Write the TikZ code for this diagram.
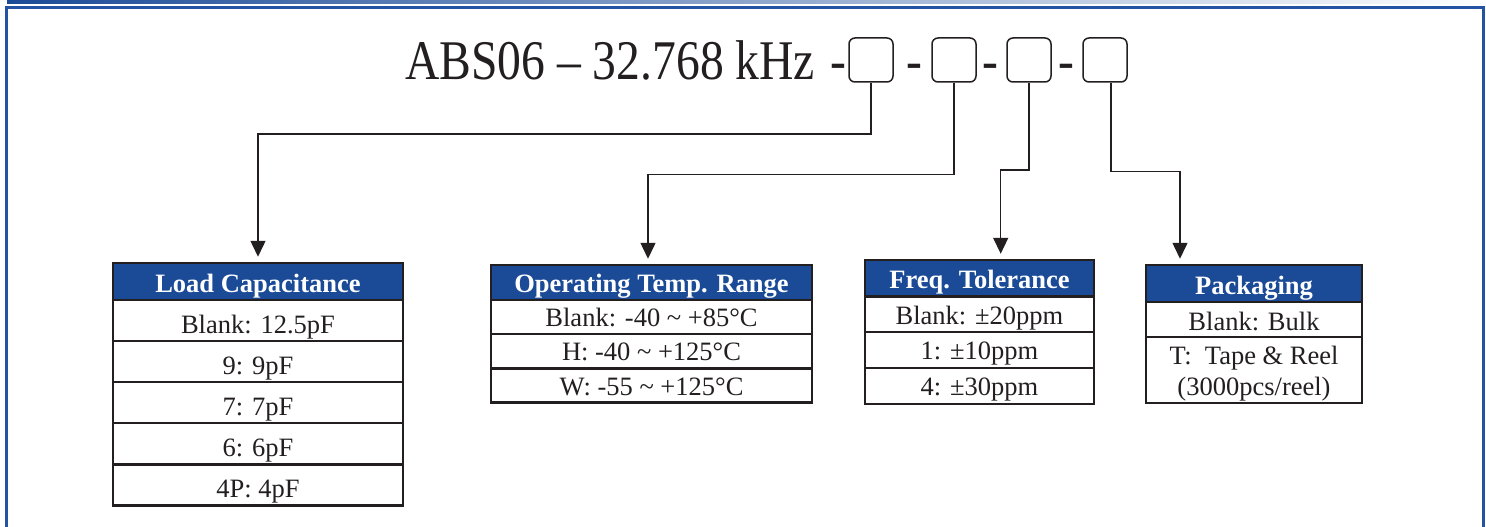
\documentclass[tikz,border=0pt]{standalone}
\usepackage{fontspec}
\setmainfont{Liberation Serif}
\newfontfamily\pnfont[FakeStretch=0.85,Ligatures=TeX]{Liberation Serif}
\usetikzlibrary{arrows.meta}
\definecolor{hdrblue}{HTML}{1B4B97}
\definecolor{frameblue}{HTML}{2553A3}
\definecolor{inkline}{HTML}{231F20}

\begin{document}
\begin{tikzpicture}[x=1pt,y=-1pt,
  hdr/.style={draw=inkline,line width=2.5pt,fill=hdrblue,text=white,inner sep=0pt,
    font=\fontsize{26.5}{31}\selectfont\bfseries,text height=19pt,text depth=0pt},
  cell/.style={draw=inkline,line width=2.5pt,fill=white,text=inkline,inner sep=0pt,
    font=\fontsize{26.5}{31}\selectfont,text height=19pt,text depth=0pt},
  pnpart/.style={inner sep=0pt,text=inkline,font=\pnfont\fontsize{56}{60}\selectfont},
  slot/.style={draw=inkline,line width=1.5pt,rounded corners=6pt,minimum width=44pt,minimum height=44pt},
  conn/.style={draw=inkline,line width=1.5pt,-{Triangle[length=16pt,width=15pt]},shorten >=5pt}]
\useasboundingbox (0,0) rectangle (1486,527);
\clip (0,0) rectangle (1486,527);
\fill[white] (0,0) rectangle (1486,527);
\shade[left color=hdrblue,right color=white] (7,0) rectangle (1486,3.5);
\draw[frameblue,line width=3pt] (6,540) |- (1483,7.5) -- (1483,540);

\node[pnpart,anchor=base west] (pn) at (405,80) {ABS06 – 32.768 kHz};
\node[pnpart,anchor=base] (d1) at (838.5,80) {-};
\node[pnpart,anchor=base] (d2) at (914,80) {-};
\node[pnpart,anchor=base] (d3) at (990,80) {-};
\node[pnpart,anchor=base] (d4) at (1066,80) {-};
\node[slot] (b1) at (871,60) {};
\node[slot] (b2) at (954,60) {};
\node[slot] (b3) at (1029,60) {};
\node[slot] (b4) at (1105,60) {};

\node[hdr,minimum width=290pt,minimum height=37pt,text height=22pt] (lc) at (258,281.5) {Load Capacitance};
\node[cell,minimum width=290pt,minimum height=41pt,text height=25pt] (lc1) at (258,320.5) {Blank: 12.5pF};
\node[cell,minimum width=290pt,minimum height=41pt,text height=25pt] (lc2) at (258,361.5) {9: 9pF};
\node[cell,minimum width=290pt,minimum height=41pt,text height=25pt] (lc3) at (258,402.5) {7: 7pF};
\node[cell,minimum width=290pt,minimum height=41pt,text height=25pt] (lc4) at (258,443.5) {6: 6pF};
\node[cell,minimum width=290pt,minimum height=41pt,text height=25pt] (lc5) at (258,485) {4P: 4pF};

\node[hdr,minimum width=321pt,minimum height=35pt] (ot) at (651.5,282.5) {Operating Temp. Range};
\node[cell,minimum width=321pt,minimum height=34pt] (ot1) at (651.5,317) {Blank: -40 \textasciitilde{} +85°C};
\node[cell,minimum width=321pt,minimum height=34pt] (ot2) at (651.5,351) {H: -40 \textasciitilde{} +125°C};
\node[cell,minimum width=321pt,minimum height=34pt] (ot3) at (651.5,385.5) {W: -55 \textasciitilde{} +125°C};

\node[hdr,minimum width=229pt,minimum height=37pt] (ft) at (979.5,278.5) {Freq. Tolerance};
\node[cell,minimum width=229pt,minimum height=36pt] (ft1) at (979.5,314.5) {Blank: ±20ppm};
\node[cell,minimum width=229pt,minimum height=36pt] (ft2) at (979.5,350) {1: ±10ppm};
\node[cell,minimum width=229pt,minimum height=36pt] (ft3) at (979.5,386) {4: ±30ppm};

\node[hdr,minimum width=216pt,minimum height=37pt,text height=22pt] (pk) at (1254,283.5) {Packaging};
\node[cell,minimum width=216pt,minimum height=35pt,text height=21pt] (pk1) at (1254,319.5) {Blank: Bulk};
\node[cell,minimum width=216pt,minimum height=66pt,align=center,text height=56pt,text depth=6pt] (pk2) at (1254,370) {T:\ \ Tape \& Reel\\(3000pcs/reel)};

\coordinate (k1) at (258,134);
\coordinate (k2) at (648,174.3);
\coordinate (k3) at (1000.7,170);
\coordinate (k4) at (1180,171.7);
\draw[conn] (b1.south) |- (k1) -- (k1 |- lc.north);
\draw[conn] (b2.south) |- (k2) -- (k2 |- ot.north);
\draw[conn] (b3.south) |- (k3) -- (k3 |- ft.north);
\draw[conn] ([xshift=6pt]b4.south) |- (k4) -- (k4 |- pk.north);
\end{tikzpicture}
\end{document}
